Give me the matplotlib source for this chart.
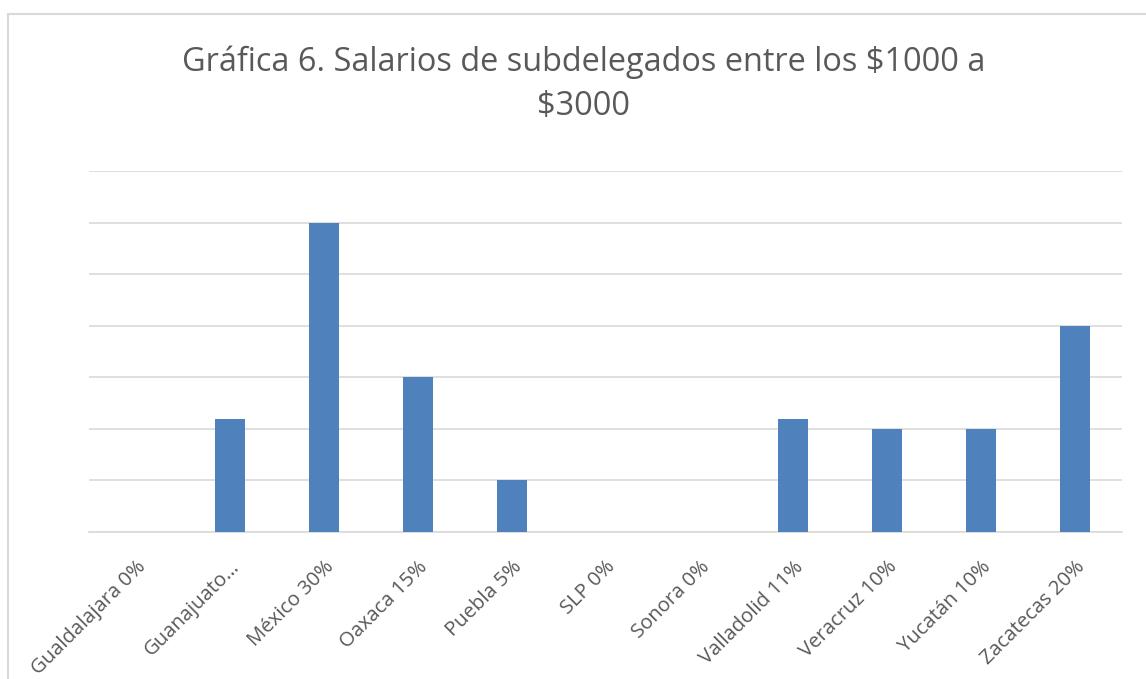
import matplotlib
matplotlib.use('Agg')
import numpy as np
from matplotlib import pyplot as plt
from matplotlib.patches import Rectangle

categories = ['Gualdalajara 0%', 'Guanajuato…', 'México 30%', 'Oaxaca 15%',
              'Puebla 5%', 'SLP 0%', 'Sonora 0%', 'Valladolid 11%',
              'Veracruz 10%', 'Yucatán 10%', 'Zacatecas 20%']
values = [0, 11, 30, 15, 5, 0, 0, 11, 10, 10, 20]
y_ticks = [0, 5, 10, 15, 20, 25, 30, 35]

plt.rcParams['font.family'] = ['Open Sans', 'DejaVu Sans']

fig = plt.figure(figsize=(11.46, 6.79), dpi=100)
ax = fig.add_axes([89 / 1146, 1 - 532 / 679, (1122 - 89) / 1146, (532 - 171) / 679])

x = np.arange(len(categories))
ax.bar(x, values, width=0.32, color='#4f81bd', zorder=3)

ax.set_xlim(-0.5, len(categories) - 0.5)
ax.set_ylim(0, 35)
ax.set_yticks(y_ticks)
ax.set_yticklabels([])
ax.tick_params(axis='y', length=0)
ax.grid(axis='y', color='#d9d9d9', linewidth=1.2, zorder=0)

ax.set_xticks(x)
ax.set_xticklabels(categories, rotation=45, ha='right', va='top',
                   rotation_mode='anchor', fontsize=14.6, color='#595959')
ax.tick_params(axis='x', length=0, pad=18)

for side in ['top', 'right', 'left']:
    ax.spines[side].set_visible(False)
ax.spines['bottom'].set_color('#d9d9d9')
ax.spines['bottom'].set_linewidth(1.2)

fig.text(0.509, 1 - 84 / 679, 'Gráfica 6. Salarios de subdelegados entre los \\$1000 a\n\\$3000',
         ha='center', va='center', fontsize=23.4, color='#595959', linespacing=1.45)

fig.patches.append(Rectangle((8 / 1146, -0.1), 1.2, 1.1 - 14 / 679,
                             transform=fig.transFigure, fill=False,
                             edgecolor='#d9d9d9', linewidth=1.5))

fig.savefig('out.png', dpi=100)
